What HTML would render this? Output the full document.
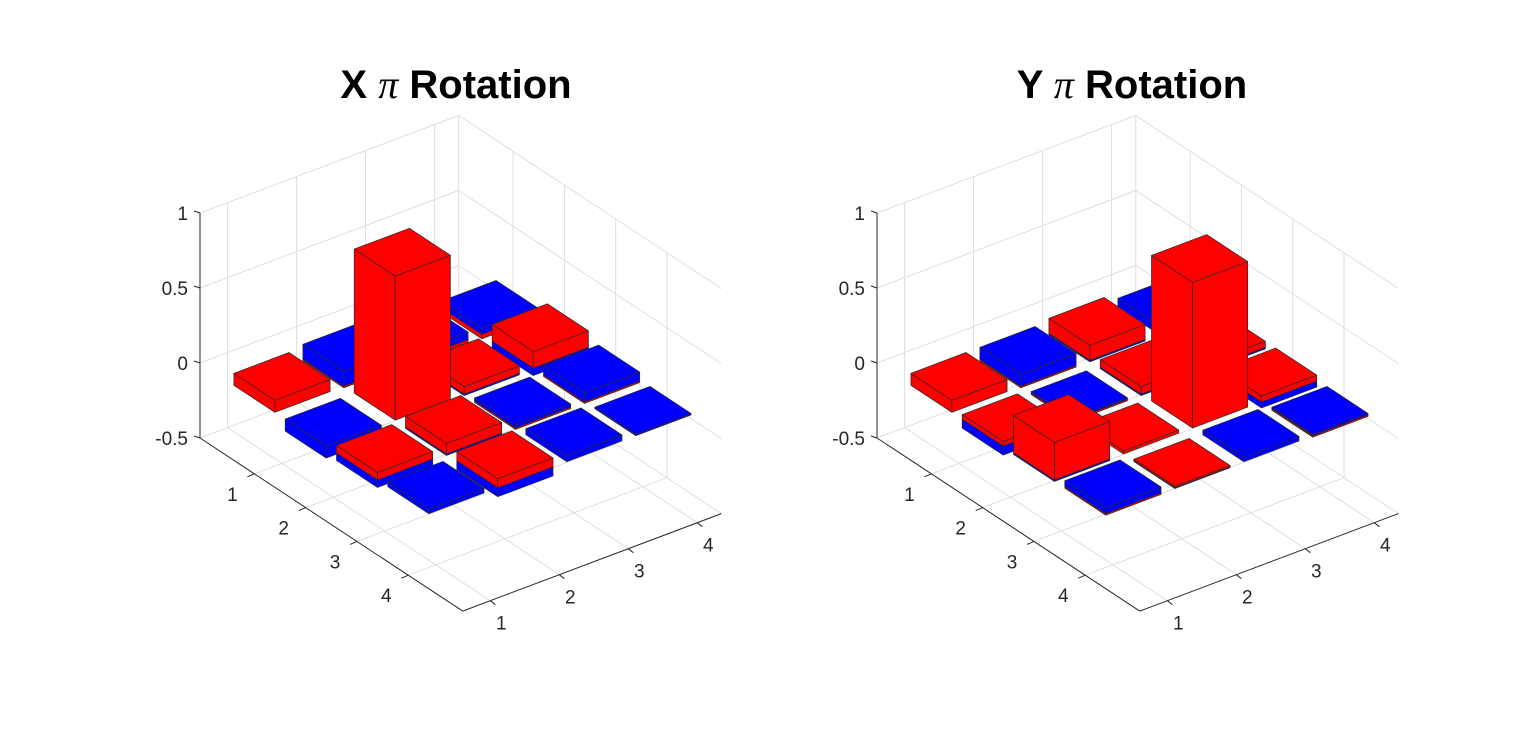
<!DOCTYPE html>
<html><head><meta charset="utf-8"><style>
html,body{margin:0;padding:0;background:#fff;}
svg{display:block;}
text{font-family:"Liberation Sans",sans-serif;}
</style></head><body>
<svg id="fig" width="1536" height="749" viewBox="0 0 1536 749" xmlns="http://www.w3.org/2000/svg">
<rect x="0" y="0" width="1536" height="749" fill="#fff"/>
<text x="456" y="98" text-anchor="middle" font-size="40" font-weight="bold" fill="#000">X <tspan font-family="Liberation Serif" font-style="italic" font-weight="normal">π</tspan> Rotation</text>
<text x="1132" y="98" text-anchor="middle" font-size="40" font-weight="bold" fill="#000">Y <tspan font-family="Liberation Serif" font-style="italic" font-weight="normal">π</tspan> Rotation</text>
</svg>
<script>
const rowLabels = [1, 2, 3, 4];
const colLabels = [1, 2, 3, 4];
const zTicks = [-0.5, 0, 0.5, 1];
const zTickLabels = ["-0.5", "0", "0.5", "1"];
// X pi rotation: red and blue series, [row][col]
const xRed = [
  [0.08, -0.01, -0.02, -0.03],
  [0, 0.96, 0.05, 0.11],
  [0.05, 0.07, -0.01, -0.01],
  [0, 0.06, 0, 0]
];
const xBlue = [
  [0, 0.1, 0.05, 0.04],
  [-0.08, 0, -0.01, -0.05],
  [-0.05, -0.01, 0.02, 0.06],
  [0.03, -0.06, 0.04, 0.01]
];
// Y pi rotation
const yRed = [
  [0.08, -0.01, 0.1, 0],
  [0.03, -0.01, 0.05, 0.04],
  [0.25, 0.02, 0.97, 0.04],
  [-0.01, 0.01, 0, -0.01]
];
const yBlue = [
  [0, 0.08, -0.01, 0.06],
  [-0.06, 0.01, -0.01, -0.01],
  [-0.01, 0, 0, -0.04],
  [0.04, -0.005, 0.03, 0.01]
];

const NS = "http://www.w3.org/2000/svg";
const svg = document.getElementById("fig");
const R0 = -0.06, R1 = 5.06, C0 = 0.6, C1 = 4.35, ZMIN = -0.5, ZMAX = 1;
const HW = 0.4;

function mk(tag, attrs, parent) {
  const e = document.createElementNS(NS, tag);
  for (const k in attrs) e.setAttribute(k, attrs[k]);
  (parent || svg).appendChild(e);
  return e;
}

function drawPlot(ox, red, blue, prefix) {
  const g = mk("g", {});
  
  
  const P = (r, c, z) => [ox + (r - R0) * 51.3 + (c - C0) * 69, 438 + (r - R0) * 33.8 - (c - C0) * 26 - (z - ZMIN) * 150];
  const line = (a, b, stroke, w, name) => {
    const l = mk("line", {x1: a[0].toFixed(1), y1: a[1].toFixed(1), x2: b[0].toFixed(1), y2: b[1].toFixed(1), stroke: stroke, "stroke-width": w}, g);
    
    
    return l;
  };
  const grid = "#dedede";
  for (const z of zTicks) {
    line(P(R0, C0, z), P(R0, C1, z), grid, 1, 'grid-line-z');
    line(P(R0, C1, z), P(R1, C1, z), grid, 1, 'grid-line-z');
  }
  for (const c of colLabels) {
    line(P(R0, c, ZMIN), P(R0, c, ZMAX), grid, 1, 'grid-line-col-wall');
    line(P(R0, c, ZMIN), P(R1, c, ZMIN), grid, 1, 'grid-line-col-floor');
  }
  for (const r of rowLabels) {
    line(P(r, C1, ZMIN), P(r, C1, ZMAX), grid, 1, 'grid-line-row-wall');
    line(P(r, C0, ZMIN), P(r, C1, ZMIN), grid, 1, 'grid-line-row-floor');
  }
  line(P(R0, C1, ZMIN), P(R0, C1, ZMAX), grid, 1, 'grid-corner');
  const ax = "#262626";
  line(P(R0, C0, ZMIN), P(R0, C0, ZMAX), ax, 1, 'z-axis');
  line(P(R0, C0, ZMIN), P(R1, C0, ZMIN), ax, 1, 'row-axis');
  line(P(R1, C0, ZMIN), P(R1, C1, ZMIN), ax, 1, 'col-axis');
  zTicks.forEach((z, i) => {
    const p = P(R0, C0, z);
    line(p, [p[0] - 6, p[1] - 2], ax, 1, 'z-tick');
    const t = mk("text", {x: (p[0] - 12).toFixed(1), y: (p[1] + 7).toFixed(1), "text-anchor": "end", "font-size": 19, fill: ax}, g);
    
    
    t.textContent = zTickLabels[i];
  });
  rowLabels.forEach(r => {
    const p = P(r, C0, ZMIN);
    line(p, [p[0] - 7, p[1] + 3], ax, 1, 'row-tick');
    const t = mk("text", {x: (p[0] - 22).toFixed(1), y: (p[1] + 27).toFixed(1), "text-anchor": "middle", "font-size": 19, fill: ax}, g);
    
    
    t.textContent = r;
  });
  colLabels.forEach(c => {
    const p = P(R1, c, ZMIN);
    line(p, [p[0] + 5, p[1] + 4], ax, 1, 'col-tick');
    const t = mk("text", {x: (p[0] + 11).toFixed(1), y: (p[1] + 29).toFixed(1), "text-anchor": "middle", "font-size": 19, fill: ax}, g);
    
    
    t.textContent = c;
  });
  const cells = [];
  for (let i = 0; i < 4; i++) for (let j = 0; j < 4; j++) cells.push([i, j]);
  cells.sort((a, b) => ((a[0] - a[1]) - (b[0] - b[1])) || (a[0] - b[0]));
  const poly = (pts, fill, name) => {
    const p = mk("polygon", {points: pts.map(q => q[0].toFixed(1) + "," + q[1].toFixed(1)).join(" "), fill: fill, stroke: "#2a2a2a", "stroke-width": 0.7, "stroke-linejoin": "round"}, g);
    
    
  };
  for (const [i, j] of cells) {
    const r = rowLabels[i], c = colLabels[j];
    const bars = [{v: red[i][j], col: "#ff0000", n: "red"}, {v: blue[i][j], col: "#0000ff", n: "blue"}].filter(b => b.v !== 0);
    bars.sort((a, b) => {
      const sa = a.v < 0 ? 0 : 1, sb = b.v < 0 ? 0 : 1;
      if (sa !== sb) return sa - sb;
      return Math.abs(a.v) - Math.abs(b.v);
    });
    for (const b of bars) {
      const lo = Math.min(0, b.v), hi = Math.max(0, b.v);
      const L = [r - HW, c - HW], F = [r + HW, c - HW], Rr = [r + HW, c + HW], B = [r - HW, c + HW];
      const nm = prefix + '-bar-' + b.n + '-r' + r + 'c' + c;
      poly([P(L[0], L[1], lo), P(F[0], F[1], lo), P(F[0], F[1], hi), P(L[0], L[1], hi)], b.col, nm + '-left');
      poly([P(F[0], F[1], lo), P(Rr[0], Rr[1], lo), P(Rr[0], Rr[1], hi), P(F[0], F[1], hi)], b.col, nm + '-right');
      poly([P(L[0], L[1], hi), P(F[0], F[1], hi), P(Rr[0], Rr[1], hi), P(B[0], B[1], hi)], b.col, nm + '-top');
    }
  }
}
drawPlot(200, xRed, xBlue, 'x-rotation');
drawPlot(877, yRed, yBlue, 'y-rotation');
</script>
</body></html>
